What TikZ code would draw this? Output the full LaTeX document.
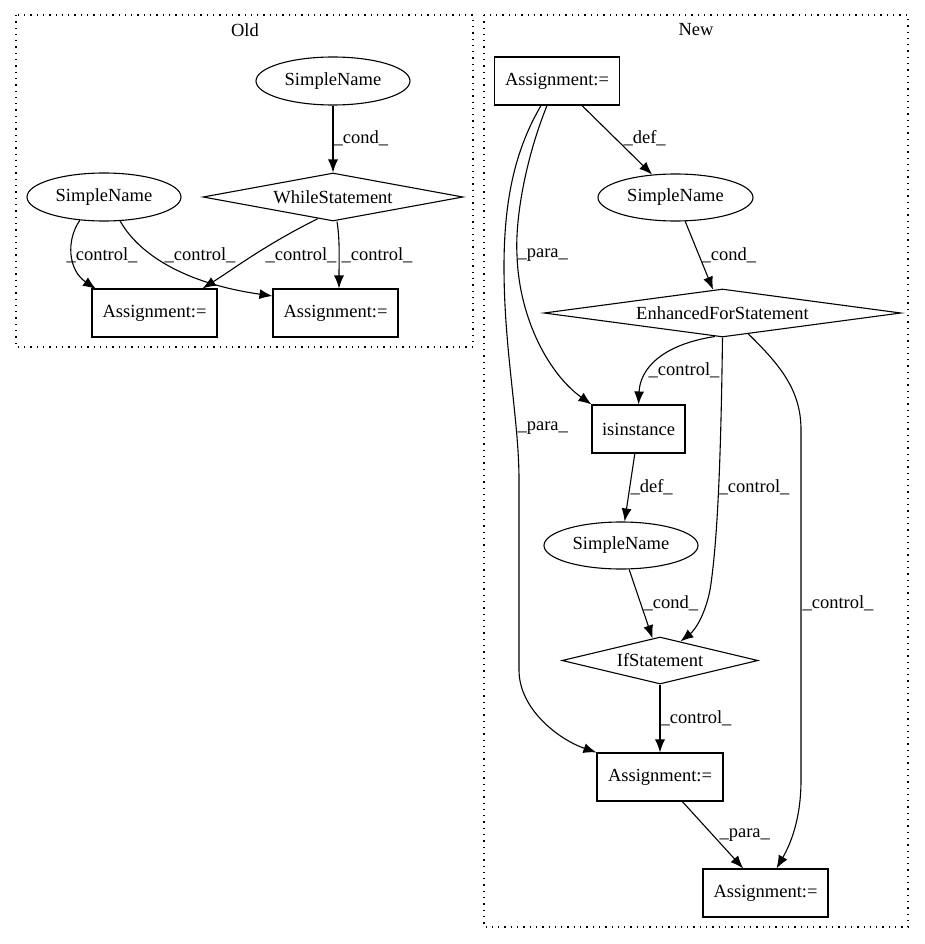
\documentclass[tikz,border=0pt]{standalone}
\usepackage{fontspec}
\setmainfont{Liberation Serif}
\usetikzlibrary{shapes.geometric, arrows.meta}

\begin{document}
\begin{tikzpicture}[x=1pt, y=1pt, line width=1.1pt,
  every node/.style = {font=\fontsize{18.5}{22}\selectfont, inner sep=0pt},
  stmt/.style = {shape=rectangle, draw, minimum width=125pt, minimum height=48pt},
  var/.style = {shape=ellipse, draw, minimum width=154pt, minimum height=48pt},
  cond/.style = {shape=diamond, draw},
  lbl/.style = {anchor=west},
  flow/.style = {draw, -{Latex[length=13pt, width=10pt]}},
  cluster/.style = {draw, line width=1.2pt, dash pattern=on 1.3pt off 5pt}]

\useasboundingbox (0,0) rectangle (924,-944);

% Old cluster
\draw[cluster] (16,-15) rectangle (473,-347);
\node (old) at (245,-30) {Old};
\node[var] (snO) at (333,-81) {SimpleName};
\node[cond, minimum width=260pt, minimum height=48pt, aspect=5.4] (whl) at (333,-197) {WhileStatement};
\node[var] (snL) at (104,-197) {SimpleName};
\node[stmt] (asL) at (154.5,-313) {Assignment:=};
\node[stmt] (asR) at (335.5,-313) {Assignment:=};

\draw[flow] (snO) -- (whl) node[lbl] at (333,-138) {\_cond\_};
\draw[flow] (snL.224) .. controls (66,-240) and (68,-270) .. (96,-289)
  node[lbl] at (66,-255) {\_control\_};
\draw[flow] (snL.304) .. controls (135,-248) and (175,-282) .. ([yshift=17pt]asR.west)
  node[lbl] at (164,-255) {\_control\_};
\draw[flow] (whl.235) .. controls (265,-245) and (235,-268) .. ([xshift=-15pt]asL.north east)
  node[lbl] at (265,-255) {\_control\_};
\draw[flow] ([xshift=4pt]whl.south) .. controls (340,-240) and (339,-260) .. ([xshift=3.5pt]asR.north)
  node[lbl] at (341,-255) {\_control\_};

% New cluster
\draw[cluster] (484,-15) rectangle (908,-927);
\node (new) at (696,-30) {New};
\node[stmt] (asT) at (557,-81) {Assignment:=};
\node[var, minimum width=155pt, minimum height=47pt] (snA) at (675.5,-197.5) {SimpleName};
\node[cond, minimum width=357pt, minimum height=48pt, aspect=7.4] (efs) at (722.5,-313) {EnhancedForStatement};
\node[stmt, minimum width=93pt] (isi) at (638.5,-429) {isinstance};
\node[var, minimum height=47pt] (snB) at (621,-545.5) {SimpleName};
\node[cond, minimum width=196pt, minimum height=47pt, aspect=4.2] (ifs) at (660,-660.5) {IfStatement};
\node[stmt, minimum width=126pt] (asM) at (660,-777) {Assignment:=};
\node[stmt] (asB) at (765.5,-893) {Assignment:=};

\draw[flow] (asT) -- (snA) node[lbl] at (623,-138) {\_def\_};
\draw[flow] ([xshift=-10pt]asT.south) .. controls (525,-160) and (515,-220) .. (517,-255)
  .. controls (519,-320) and (550,-375) .. (isi.north west)
  node[lbl] at (517,-255) {\_para\_};
\draw[flow] ([xshift=-16pt]asT.south) .. controls (515,-150) and (504,-200) .. (504,-267)
  .. controls (504,-350) and (519,-420) .. (519,-480) -- (519,-670)
  .. controls (519,-710) and (560,-740) .. (asM.north west)
  node[lbl] at (517,-428) {\_para\_};
\draw[flow] (snA) -- (efs) node[lbl] at (701,-255) {\_cond\_};
\draw[flow] (efs.252) .. controls (660,-345) and (640,-370) .. (isi.north)
  node[lbl] at (648,-370) {\_control\_};
\draw[flow] (efs.south) .. controls (721,-450) and (718,-540) .. (710,-590)
  .. controls (705,-615) and (695,-630) .. (ifs.43)
  node[lbl] at (718,-487) {\_control\_};
\draw[flow] (efs.321) .. controls (780,-365) and (801,-390) .. (801,-430) -- (801,-780)
  .. controls (801,-820) and (790,-845) .. ([xshift=11pt]asB.north)
  node[lbl] at (802,-603) {\_control\_};
\draw[flow] (isi) -- (snB) node[lbl] at (630,-487) {\_def\_};
\draw[flow] (snB) -- (ifs) node[lbl] at (643,-603) {\_cond\_};
\draw[flow] (ifs) -- (asM) node[lbl] at (660,-718) {\_control\_};
\draw[flow] (asM) -- (asB) node[lbl] at (719,-835) {\_para\_};
\end{tikzpicture}
\end{document}
